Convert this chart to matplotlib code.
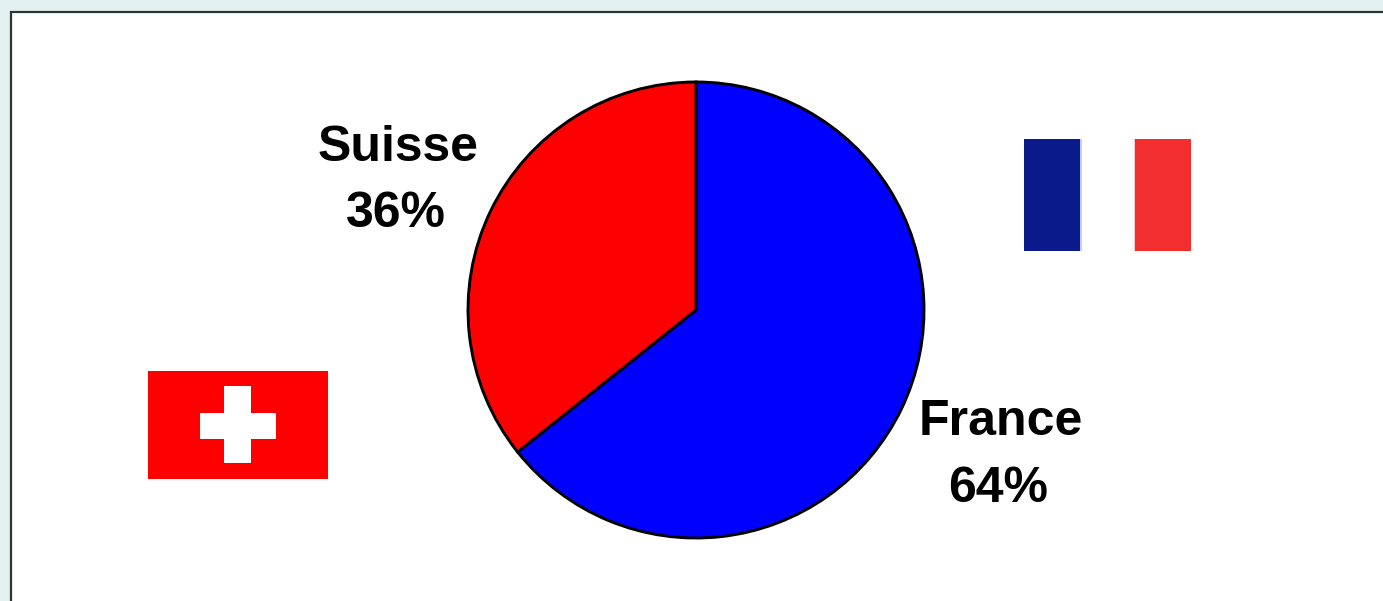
import matplotlib
matplotlib.use("Agg")
import matplotlib.pyplot as plt
from matplotlib.patches import Rectangle

countries = ["France", "Suisse"]
shares = [64.3, 35.7]
percent_labels = ["64%", "36%"]
colors = ["#0000ff", "#ff0000"]

W, H = 1383, 601
fig = plt.figure(figsize=(W / 100, H / 100), dpi=100, facecolor="#e3f1f1")

# Pixel-coordinate overlay for the frame and the flags
bg = fig.add_axes([0, 0, 1, 1], zorder=0)
bg.set_xlim(0, W)
bg.set_ylim(H, 0)
bg.axis("off")
bg.add_patch(Rectangle((11, 12), W + 20, H + 20, fc="white", ec="#2b3535", lw=1.6))

# Swiss flag
bg.add_patch(Rectangle((147.5, 371), 180, 107.5, fc="#ff0000", ec="none"))
bg.add_patch(Rectangle((199.5, 412.5), 76, 26.5, fc="white", ec="none"))
bg.add_patch(Rectangle((224, 386), 27, 77, fc="white", ec="none"))

# French flag
bg.add_patch(Rectangle((1024, 139), 56, 112, fc="#0a1a8a", ec="none"))
bg.add_patch(Rectangle((1080, 139), 1.5, 112, fc="#c4ccf2", ec="none"))
bg.add_patch(Rectangle((1133.5, 139), 1.5, 112, fc="#f2c8c8", ec="none"))
bg.add_patch(Rectangle((1135, 139), 56, 112, fc="#f22e2e", ec="none"))

# Pie
cx, cy, r = 696, 310, 228
ax = fig.add_axes([(cx - r - 2) / W, 1 - (cy + r + 2) / H, (2 * r + 4) / W, (2 * r + 4) / H], zorder=1)
ax.pie(shares, colors=colors, startangle=90, counterclock=False, radius=r / (r + 2),
       wedgeprops=dict(edgecolor="black", linewidth=2.1))
ax.set_xlim(-1, 1)
ax.set_ylim(-1, 1)

fnt = dict(family="Liberation Sans", weight="bold", fontsize=36, color="black",
           ha="center", va="baseline", zorder=3)
bg.text(1001, 435, countries[0], **fnt)
bg.text(998, 502, percent_labels[0], **fnt)
bg.text(398.5, 161, countries[1], **fnt)
bg.text(395.5, 227, percent_labels[1], **fnt)

fig.savefig("out.png", dpi=100, facecolor=fig.get_facecolor())
